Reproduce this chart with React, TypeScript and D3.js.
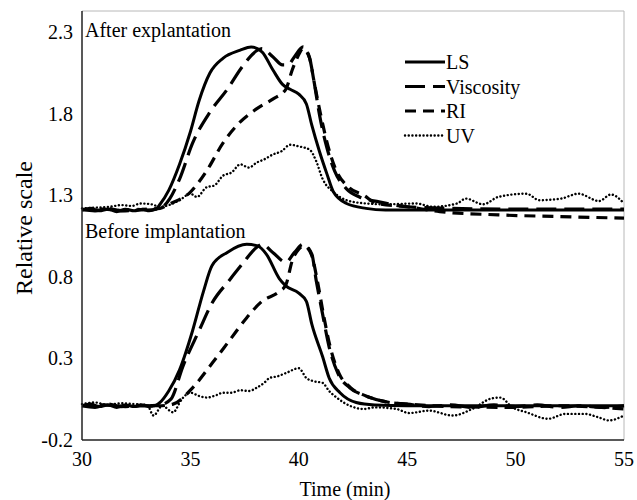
import React from "react";
import * as d3 from "d3";

type P = [number, number];

const xTicks = [30, 35, 40, 45, 50, 55];
const yTicks = [-0.2, 0.3, 0.8, 1.3, 1.8, 2.3];
const yTickLabels = ["-0.2", "0.3", "0.8", "1.3", "1.8", "2.3"];
const seriesNames = ["LS", "Viscosity", "RI", "UV"];
const panelLabels = ["After explantation", "Before implantation"];

// After explantation
const afterLS: P[] = [[30,1.21],[30.4,1.22],[30.8,1.205],[31.2,1.215],[31.6,1.2],[32,1.215],[32.4,1.205],[32.8,1.215],[33.1,1.205],[33.4,1.215],[33.6,1.245],[34,1.33],[34.5,1.49],[35,1.69],[35.4,1.88],[35.9,2.05],[36.5,2.14],[37.3,2.19],[37.8,2.21],[38.3,2.18],[38.8,2.07],[39.25,1.98],[39.6,1.95],[40.0,1.92],[40.35,1.86],[40.6,1.73],[40.95,1.57],[41.3,1.43],[41.6,1.32],[42.2,1.25],[43.1,1.22],[44,1.21],[46,1.21],[50,1.21],[55,1.21]];
const afterVisc: P[] = [[30,1.215],[30.6,1.205],[31.2,1.22],[31.8,1.205],[32.4,1.215],[33,1.21],[33.6,1.22],[34.05,1.28],[34.5,1.4],[35.1,1.62],[35.9,1.81],[36.7,1.95],[37.4,2.09],[38.1,2.19],[38.3,2.2],[38.8,2.15],[39.25,2.1],[39.5,2.1],[39.8,2.15],[40.2,2.21],[40.5,2.14],[40.7,2.0],[40.96,1.79],[41.3,1.59],[41.65,1.45],[42.2,1.34],[42.8,1.29],[43.7,1.26],[45,1.23],[47,1.22],[50,1.215],[55,1.215]];
const afterRI: P[] = [[30,1.21],[31,1.215],[32,1.205],[33,1.215],[33.6,1.22],[34.0,1.245],[35.0,1.32],[35.75,1.45],[36.5,1.62],[37.3,1.75],[38.05,1.83],[38.8,1.89],[39.4,1.95],[39.7,2.07],[39.95,2.15],[40.2,2.2],[40.5,2.14],[40.7,2.0],[41.0,1.8],[41.35,1.6],[41.7,1.46],[42.3,1.35],[43,1.3],[43.6,1.25],[45,1.23],[46.5,1.2],[49.2,1.18],[52,1.17],[55,1.16]];
const afterUV: P[] = [[30,1.22],[30.7,1.225],[31.3,1.23],[31.8,1.24],[32.3,1.235],[32.7,1.25],[33.2,1.245],[33.6,1.23],[34.0,1.24],[34.5,1.27],[35.0,1.31],[35.3,1.29],[35.75,1.35],[36.1,1.36],[36.5,1.42],[36.9,1.44],[37.3,1.49],[37.7,1.47],[38.05,1.5],[38.4,1.52],[38.8,1.55],[39.2,1.57],[39.6,1.61],[40.0,1.6],[40.5,1.58],[40.8,1.51],[41.1,1.4],[41.6,1.32],[42.2,1.27],[43.1,1.25],[44,1.245],[45.4,1.25],[46.2,1.23],[47.3,1.25],[47.7,1.28],[48.5,1.245],[49.2,1.29],[50.5,1.31],[51.1,1.27],[52.1,1.28],[52.9,1.31],[53.85,1.265],[54.4,1.305],[55,1.25]];

// Before implantation
const beforeLS: P[] = [[30,0.01],[30.4,0.02],[30.8,0.005],[31.2,0.015],[31.6,0.0],[32,0.015],[32.4,0.005],[32.8,0.015],[33.1,0.005],[33.4,0.012],[33.6,0.03],[34.0,0.1],[34.5,0.23],[35.1,0.47],[35.6,0.71],[36.0,0.87],[36.7,0.95],[37.6,1.0],[38.1,0.99],[38.5,0.94],[39.1,0.79],[39.4,0.745],[40.0,0.7],[40.35,0.65],[40.6,0.51],[41.1,0.31],[41.4,0.18],[41.9,0.09],[42.65,0.03],[43.5,0.015],[45,0.01],[50,0.01],[55,0.01]];
const beforeVisc: P[] = [[30,0.01],[30.6,0.0],[31.2,0.02],[31.8,0.005],[32.4,0.015],[33,0.01],[33.6,0.015],[34.1,0.05],[34.65,0.25],[35.4,0.47],[36.0,0.64],[36.8,0.78],[37.4,0.88],[38.05,0.98],[38.3,1.0],[38.8,0.95],[39.4,0.89],[39.8,0.95],[40.2,1.0],[40.6,0.94],[40.8,0.78],[41.1,0.57],[41.4,0.37],[41.8,0.21],[42.35,0.12],[43.1,0.07],[44.2,0.03],[45,0.02],[46,0.005],[47,0.015],[48,0.0],[49,0.015],[50,0.005],[51,0.015],[52,0.0],[53,0.01],[54,0.0],[55,0.01]];
const beforeRI: P[] = [[30,0.01],[31,0.015],[32,0.005],[33,0.01],[33.6,0.01],[34.2,0.02],[35.1,0.12],[36.0,0.27],[36.8,0.41],[37.6,0.55],[38.3,0.65],[39.1,0.71],[39.4,0.75],[39.7,0.9],[40.0,0.97],[40.25,0.99],[40.6,0.93],[40.85,0.78],[41.15,0.56],[41.45,0.37],[41.85,0.21],[42.4,0.12],[43.1,0.07],[44.2,0.03],[45,0.02],[47,0.005],[50,0.0],[52,0.01],[55,-0.01]];
const beforeUV: P[] = [[30,0.02],[30.6,0.03],[31.2,0.015],[31.8,0.025],[32.4,0.02],[33.0,0.015],[33.3,-0.05],[33.7,0.01],[34.2,-0.03],[34.6,0.05],[35.0,0.09],[35.4,0.07],[35.75,0.06],[36.2,0.075],[36.5,0.09],[36.9,0.09],[37.3,0.105],[37.7,0.1],[38.05,0.12],[38.4,0.15],[38.65,0.18],[39.0,0.19],[39.4,0.21],[40.0,0.24],[40.35,0.18],[40.7,0.16],[41.1,0.15],[41.4,0.1],[41.75,0.06],[42.35,0.01],[43,-0.01],[43.5,0.0],[44.5,-0.01],[45.1,-0.035],[46,-0.02],[47.1,-0.05],[48,-0.01],[48.9,0.055],[49.3,0.06],[49.85,0.0],[50.5,-0.03],[51.5,-0.07],[52.3,-0.04],[53.2,-0.04],[53.8,-0.06],[54.3,-0.08],[55,-0.05]];

const styles = [
  { width: 3, dash: "", cap: "butt" },
  { width: 3.2, dash: "20,8", cap: "butt" },
  { width: 3.2, dash: "11,7", cap: "butt" },
  { width: 2.4, dash: "0.1,3.6", cap: "round" },
];

const FONT = "Liberation Serif, Times New Roman, Times, serif";
const ts: React.CSSProperties = { fontFamily: FONT };

export default function App() {
  const W = 637, H = 500;
  const x = d3.scaleLinear().domain([30, 55]).range([82, 624]);
  const y = d3.scaleLinear().domain([-0.2, 2.43]).range([440, 11]);
  const line = d3.line<P>().x(d => x(d[0])).y(d => y(d[1])).curve(d3.curveMonotoneX);
  const groups = [
    [afterLS, afterVisc, afterRI, afterUV],
    [beforeLS, beforeVisc, beforeRI, beforeUV],
  ];
  return (
    <svg width={W} height={H} style={{ position: "absolute", left: 0, top: 0, background: "#fff" }}>
      <rect x={0} y={0} width={W} height={H} fill="#fff" />
      <line x1={82} y1={11} x2={624} y2={11} stroke="#b8b8b8" strokeWidth={1} />
      <line x1={624} y1={11} x2={624} y2={440} stroke="#b8b8b8" strokeWidth={1} />
      {groups.map((g, gi) =>
        g.map((data, si) => (
          <path key={gi + "-" + si} d={line(data) || ""} fill="none" stroke="#000"
            strokeWidth={styles[si].width} strokeDasharray={styles[si].dash || undefined}
            strokeLinecap={styles[si].cap as any} strokeLinejoin="round" />
        ))
      )}
      <line x1={82} y1={11} x2={82} y2={440} stroke="#222" strokeWidth={1.5} />
      <line x1={82} y1={440} x2={624} y2={440} stroke="#222" strokeWidth={1.5} />
      {yTicks.map((v, i) => (
        <text key={"y" + v} style={ts} x={73} y={y(v)} dy="0.35em" textAnchor="end" fontSize={20}>{yTickLabels[i]}</text>
      ))}
      {xTicks.map(v => (
        <text key={"x" + v} style={ts} x={x(v)} y={466} textAnchor="middle" fontSize={20}>{v}</text>
      ))}
      <text style={ts} x={345} y={496} textAnchor="middle" fontSize={20}>Time (min)</text>
      <text style={ts} transform={`translate(32,228) rotate(-90)`} textAnchor="middle" fontSize={24}>Relative scale</text>
      <text style={ts} x={85} y={37} fontSize={20}>{panelLabels[0]}</text>
      <text style={ts} x={85} y={238} fontSize={20}>{panelLabels[1]}</text>
      {seriesNames.map((n, i) => {
        const cy = 62 + i * 24.5;
        return (
          <g key={n}>
            <line x1={405} x2={445} y1={cy} y2={cy} stroke="#000" strokeWidth={styles[i].width}
              strokeDasharray={styles[i].dash || undefined} strokeLinecap={styles[i].cap as any} />
            <text style={ts} x={446} y={cy} dy="0.35em" fontSize={20}>{n}</text>
          </g>
        );
      })}
    </svg>
  );
}
